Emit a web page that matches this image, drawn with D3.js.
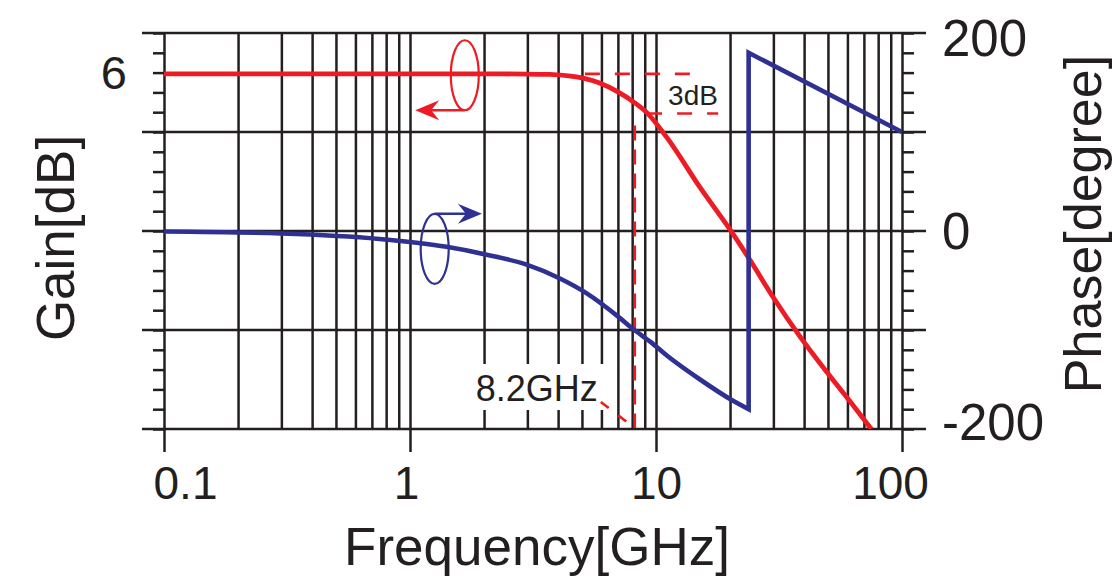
<!DOCTYPE html>
<html>
<head>
<meta charset="utf-8">
<script src="https://cdn.jsdelivr.net/npm/d3@7"></script>
<style>
  body { margin: 0; background: white; }
  text { font-family: "Liberation Sans", Arial, Helvetica, sans-serif; fill: #231f20; }
</style>
</head>
<body>
<div id="chart"></div>
<script>
/* global d3 */

// gain curve (red)
var gainFreq = [0.1, 1, 2, 3, 3.7, 4.5, 5.05, 5.9, 7, 8.07, 9.2, 11.1, 15.1, 20, 24.1, 29.9, 38.5, 50, 62, 75];
var gainDb = [5.9, 5.9, 5.9, 5.89, 5.86, 5.73, 5.58, 5.21, 4.54, 3.8, 2.95, 1.05, -2.7, -5.9, -8.2, -11.0, -14.0, -16.8, -19.0, -21.0];

// phase curve (blue), before and after the +/-180 wrap
var phaseFreq = [0.1, 0.3, 0.75, 1.41, 2.05, 2.98, 4.07, 5.23, 7.14, 8.07, 9.5, 11.1, 15.1, 20.4, 23.8];
var phaseDeg = [-0.5, -2.5, -8, -16, -24, -34, -48, -63, -88, -99, -112, -126, -150, -171, -180];
var wrapFreq = [23.8, 100];
var wrapDeg = [180, 100];

// ticks and labels
var freqTicks = [0.1, 1, 10, 100];
var freqLabels = ['0.1', '1', '10', '100'];
var gainTicks = [6];
var phaseTicks = [-200, 0, 200];
var phaseLabels = ['-200', '0', '200'];
var phaseMajor = [-200, -100, 0, 100, 200];

// 3dB bandwidth marker
var cutoffFreq = 8.2;
var cutoffLabel = '8.2GHz';
var dropLabel = '3dB';
var dropTopFreq = [5.14, 14.7];
var dropTopDb = 5.9;
var dropBottomFreq = [9.2, 17.9];
var dropBottomDb = 2.9;

var chart = {};
chart.WIDTH = 1112;
chart.HEIGHT = 578;
chart.LEFT = 164;
chart.RIGHT = 902;
chart.TOP = 33;
chart.BOTTOM = 429;
chart.INK = '#231f20';
chart.RED = '#ed1c24';
chart.BLUE = '#2e3192';

chart.draw = function() {
  'use strict';

  var svg = d3.select('#chart').append('svg')
    .attr('width', chart.WIDTH)
    .attr('height', chart.HEIGHT)
    .style('background', 'white');

  var x = d3.scaleLog().domain([0.1, 100]).range([chart.LEFT, chart.RIGHT]);
  var yGain = d3.scaleLinear().domain([-21, 9]).range([chart.BOTTOM, chart.TOP]);
  var yPhase = d3.scaleLinear().domain([-200, 200]).range([chart.BOTTOM, chart.TOP]);
  var plotH = chart.BOTTOM - chart.TOP;

  // vertical log grid (1..9 per decade)
  svg.append('g')
    .attr('transform', 'translate(0,' + chart.BOTTOM + ')')
    .call(d3.axisBottom(x).tickValues(x.ticks()).tickSize(-plotH).tickFormat(''))
    .call(function(g) { g.select('.domain').remove(); })
    .selectAll('line').attr('stroke', chart.INK).attr('stroke-width', 2.5);

  // decade ticks + labels below the axis
  var bottom = svg.append('g')
    .attr('transform', 'translate(0,' + chart.BOTTOM + ')')
    .call(d3.axisBottom(x).tickValues(freqTicks).tickSize(23).tickPadding(14)
      .tickFormat(function(d, i) { return freqLabels[i]; }))
    .call(function(g) { g.select('.domain').remove(); });
  bottom.selectAll('line').attr('stroke', chart.INK).attr('stroke-width', 2.5);
  bottom.selectAll('text')
    .attr('font-size', 46)
    .attr('fill', chart.INK)
    .attr('dx', function(d) { return d === 0.1 ? 21 : d === 100 ? -12 : d === 1 ? -4 : 0; });

  // minor phase ticks on both sides (every 20 degrees)
  var minor = d3.range(-200, 201, 20);
  svg.append('g')
    .attr('transform', 'translate(' + chart.LEFT + ',0)')
    .call(d3.axisLeft(yPhase).tickValues(minor).tickSize(11).tickFormat(''))
    .call(function(g) { g.select('.domain').remove(); })
    .selectAll('line').attr('stroke', chart.INK).attr('stroke-width', 2.5);
  svg.append('g')
    .attr('transform', 'translate(' + chart.RIGHT + ',0)')
    .call(d3.axisRight(yPhase).tickValues(minor).tickSize(12).tickFormat(''))
    .call(function(g) { g.select('.domain').remove(); })
    .selectAll('line').attr('stroke', chart.INK).attr('stroke-width', 2.5);

  // major horizontal lines, running out past both sides
  svg.append('g').selectAll('line')
    .data(phaseMajor)
    .enter().append('line')
    .attr('x1', chart.LEFT - 22)
    .attr('x2', chart.RIGHT + 24)
    .attr('y1', function(d) { return yPhase(d); })
    .attr('y2', function(d) { return yPhase(d); })
    .attr('stroke', chart.INK)
    .attr('stroke-width', 2.6);

  // left (gain) label
  var left = svg.append('g')
    .attr('transform', 'translate(' + chart.LEFT + ',0)')
    .call(d3.axisLeft(yGain).tickValues(gainTicks).tickSize(0).tickPadding(37))
    .call(function(g) { g.select('.domain').remove(); });
  left.selectAll('text').attr('font-size', 47).attr('fill', chart.INK).attr('dy', '0.34em');

  // right (phase) labels
  var right = svg.append('g')
    .attr('transform', 'translate(' + chart.RIGHT + ',0)')
    .call(d3.axisRight(yPhase).tickValues(phaseTicks).tickSize(0).tickPadding(40)
      .tickFormat(function(d, i) { return phaseLabels[i]; }))
    .call(function(g) { g.select('.domain').remove(); });
  right.selectAll('text')
    .attr('font-size', 51)
    .attr('fill', chart.INK)
    .attr('dy', function(d) { return d === 200 ? '0.45em' : d === -200 ? '0.21em' : '0.35em'; });

  // axis titles
  svg.append('text')
    .attr('x', 537).attr('y', 565)
    .attr('text-anchor', 'middle')
    .attr('font-size', 53)
    .text('Frequency[GHz]');
  svg.append('text')
    .attr('transform', 'translate(74,238) rotate(-90)')
    .attr('text-anchor', 'middle')
    .attr('font-size', 53)
    .text('Gain[dB]');
  svg.append('text')
    .attr('transform', 'translate(1101,224) rotate(-90)')
    .attr('text-anchor', 'middle')
    .attr('font-size', 52)
    .text('Phase[degree]');

  svg.append('clipPath').attr('id', 'plot-clip')
    .append('rect')
    .attr('x', chart.LEFT).attr('y', chart.TOP - 3)
    .attr('width', chart.RIGHT - chart.LEFT).attr('height', plotH + 3);

  // 8.2GHz label sits on a white patch over the grid
  var cx = x(cutoffFreq);
  svg.append('rect')
    .attr('x', cx - 170).attr('y', 364)
    .attr('width', 141).attr('height', 46)
    .attr('fill', 'white');
  svg.append('text')
    .attr('x', cx - 37).attr('y', 401)
    .attr('text-anchor', 'end')
    .attr('font-size', 36)
    .text(cutoffLabel);

  // dashed 3dB markers
  var dashed = svg.append('g')
    .attr('stroke', chart.RED)
    .attr('stroke-width', 2.6)
    .attr('fill', 'none');
  dashed.append('line')
    .attr('x1', x(dropTopFreq[0])).attr('x2', x(dropTopFreq[1]))
    .attr('y1', yGain(dropTopDb)).attr('y2', yGain(dropTopDb))
    .attr('stroke-dasharray', '15,15');
  dashed.append('line')
    .attr('x1', x(dropBottomFreq[0])).attr('x2', x(dropBottomFreq[1]))
    .attr('y1', yGain(dropBottomDb)).attr('y2', yGain(dropBottomDb))
    .attr('stroke-dasharray', '15,15');
  dashed.append('line')
    .attr('x1', cx).attr('x2', cx)
    .attr('y1', yGain(dropBottomDb) + 12).attr('y2', chart.BOTTOM - 1)
    .attr('stroke-dasharray', '15,9');
  dashed.append('line')
    .attr('x1', cx - 34).attr('y1', 402)
    .attr('x2', cx).attr('y2', chart.BOTTOM - 1)
    .attr('stroke-dasharray', '10,12');

  svg.append('text')
    .attr('x', x(11.2))
    .attr('y', (yGain(dropTopDb) + yGain(dropBottomDb)) / 2 + 11)
    .attr('font-size', 28)
    .text(dropLabel);

  // curves
  var plot = svg.append('g').attr('clip-path', 'url(#plot-clip)');

  var gainLine = d3.line()
    .x(function(d, i) { return x(gainFreq[i]); })
    .y(function(d) { return yGain(d); })
    .curve(d3.curveMonotoneX);

  plot.append('path')
    .attr('d', gainLine(gainDb))
    .attr('fill', 'none')
    .attr('stroke', chart.RED)
    .attr('stroke-width', 4.8);

  var phaseLine = d3.line()
    .x(function(d) { return x(d[0]); })
    .y(function(d) { return yPhase(d[1]); })
    .curve(d3.curveMonotoneX);

  var before = phaseFreq.map(function(f, i) { return [f, phaseDeg[i]]; });
  var after = wrapFreq.map(function(f, i) { return [f, wrapDeg[i]]; });

  plot.append('path')
    .attr('d', phaseLine(before) + phaseLine(after).replace(/^M/, 'L'))
    .attr('fill', 'none')
    .attr('stroke', chart.BLUE)
    .attr('stroke-width', 4.6)
    .attr('stroke-linejoin', 'miter');

  // rings with arrows telling which axis each curve uses
  var arrowHead = function(tipX, tipY, dir) {
    // dir -1 points left, 1 points right
    var back = tipX - dir * 24;
    var notch = tipX - dir * 16;
    return 'M' + tipX + ',' + tipY +
      'L' + back + ',' + (tipY - 10) +
      'L' + notch + ',' + tipY +
      'L' + back + ',' + (tipY + 10) + 'Z';
  };

  var redX = x(1.67);
  var redY = yGain(5.8);
  svg.append('ellipse')
    .attr('cx', redX).attr('cy', redY)
    .attr('rx', 14).attr('ry', 35)
    .attr('fill', 'none').attr('stroke', chart.RED).attr('stroke-width', 2.2);
  svg.append('line')
    .attr('x1', redX).attr('x2', x(1.05) + 12)
    .attr('y1', redY + 35).attr('y2', redY + 35)
    .attr('stroke', chart.RED).attr('stroke-width', 2.5);
  svg.append('path')
    .attr('d', arrowHead(x(1.05), redY + 35, -1))
    .attr('fill', chart.RED);

  var blueX = x(1.26);
  var blueY = yPhase(-18);
  svg.append('ellipse')
    .attr('cx', blueX).attr('cy', blueY)
    .attr('rx', 14).attr('ry', 35)
    .attr('fill', 'none').attr('stroke', chart.BLUE).attr('stroke-width', 2.2);
  svg.append('line')
    .attr('x1', blueX).attr('x2', x(1.96) - 12)
    .attr('y1', blueY - 35).attr('y2', blueY - 35)
    .attr('stroke', chart.BLUE).attr('stroke-width', 2.5);
  svg.append('path')
    .attr('d', arrowHead(x(1.96), blueY - 35, 1))
    .attr('fill', chart.BLUE);
};

chart.draw();
</script>
</body>
</html>
